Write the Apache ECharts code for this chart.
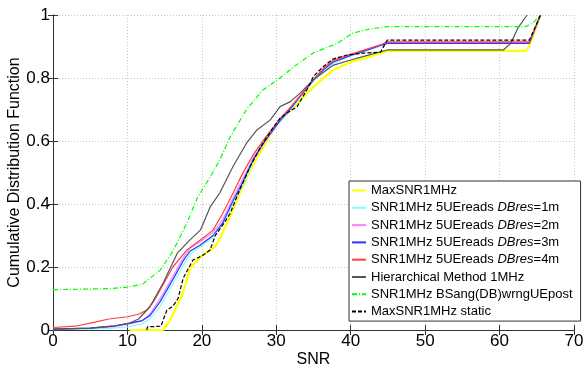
<!DOCTYPE html>
<html>
<head>
<meta charset="utf-8">
<script src="https://cdn.jsdelivr.net/npm/echarts@6/dist/echarts.min.js"></script>
<style>html,body{margin:0;padding:0;background:#fff}#c{width:585px;height:370px}</style>
</head>
<body>
<div id="c"></div>
<script>
// ---- data ----
const xTicks = [0, 10, 20, 30, 40, 50, 60, 70];
const yTicks = [0, 0.2, 0.4, 0.6, 0.8, 1];
const seriesNames = [
  'MaxSNR1MHz',
  'SNR1MHz 5UEreads DBres=1m',
  'SNR1MHz 5UEreads DBres=2m',
  'SNR1MHz 5UEreads DBres=3m',
  'SNR1MHz 5UEreads DBres=4m',
  'Hierarchical Method 1MHz',
  'SNR1MHz BSang(DB)wrngUEpost',
  'MaxSNR1MHz static'
];
const maxSNR = [[10.3,0],[14.8,0],[15.7,0.03],[16.5,0.07],[17.5,0.12],[18.4,0.195],[19.8,0.232],[21.1,0.254],[21.8,0.265],[22.4,0.29],[23.8,0.36],[25.1,0.435],[26.5,0.508],[28,0.57],[30.1,0.655],[32.5,0.71],[35,0.772],[37.6,0.825],[40,0.851],[42,0.863],[44,0.879],[45,0.886],[63.5,0.886],[64,0.9],[65.5,1]];
const res1m = [[0,0.001],[5,0.003],[8,0.006],[10,0.01],[12,0.02],[13,0.035],[14.4,0.075],[16.1,0.145],[17.5,0.205],[18.4,0.24],[19.8,0.265],[21.5,0.295],[22.8,0.335],[24.2,0.4],[25.5,0.46],[27,0.54],[28.5,0.6],[30.5,0.66],[32,0.7],[33.5,0.745],[35,0.79],[36.3,0.82],[37.6,0.845],[40,0.87],[42,0.885],[44,0.9],[44.9,0.91],[64,0.91],[65.5,1]];
const res2m = [[0,0.002],[5,0.005],[8,0.01],[10,0.018],[12,0.03],[13,0.05],[14.4,0.1],[16.1,0.17],[17.5,0.23],[18.4,0.26],[19.8,0.28],[21.5,0.31],[22.8,0.35],[24.2,0.42],[25.5,0.48],[27,0.55],[28.5,0.605],[30.5,0.67],[32,0.71],[33.5,0.755],[35,0.795],[36.3,0.83],[37.6,0.855],[40,0.875],[42,0.89],[44,0.905],[44.9,0.913],[64,0.913],[65.5,1]];
const res3m = [[0,0.003],[5,0.006],[8,0.012],[10,0.02],[12,0.03],[13,0.045],[14.4,0.09],[16.1,0.16],[17.5,0.22],[18.4,0.25],[19.8,0.27],[21.5,0.3],[22.8,0.34],[24.2,0.41],[25.5,0.47],[27,0.545],[28.5,0.6],[30.5,0.665],[32,0.705],[33.5,0.75],[35,0.793],[36.3,0.825],[37.6,0.85],[40,0.872],[42,0.887],[44,0.903],[44.9,0.91],[64,0.91],[65.5,1]];
const res4m = [[0,0.008],[3,0.012],[5,0.022],[7.5,0.035],[10,0.042],[11.5,0.05],[12.6,0.063],[13.5,0.09],[14.4,0.127],[16.1,0.2],[18,0.254],[19.8,0.286],[21.5,0.317],[22.8,0.37],[24.2,0.435],[25.5,0.498],[27,0.56],[28.5,0.61],[30.5,0.67],[32,0.71],[33.5,0.75],[35,0.795],[36.3,0.83],[37.6,0.855],[40,0.875],[42,0.89],[44,0.905],[44.9,0.915],[64,0.915],[65.5,1]];
const hierarchical = [[0,0.003],[5,0.006],[8,0.012],[10.3,0.022],[11.5,0.035],[13,0.073],[14.8,0.149],[16.7,0.244],[18.4,0.286],[19.8,0.317],[21.1,0.39],[22.4,0.435],[24.2,0.52],[26,0.593],[27.4,0.635],[29.2,0.667],[30.5,0.709],[31.9,0.725],[33.2,0.752],[35,0.795],[37.6,0.84],[40,0.857],[42,0.87],[44.9,0.889],[60.5,0.889],[61.5,0.91],[62.5,0.96],[63.7,1]];
const bsAngWrong = [[0,0.128],[5,0.13],[8,0.132],[10,0.136],[12,0.145],[14.4,0.19],[16.1,0.25],[18,0.34],[19.4,0.42],[21.1,0.485],[22.4,0.54],[23.8,0.613],[26,0.7],[28.2,0.762],[30.5,0.8],[32.3,0.835],[35,0.88],[38.2,0.91],[40.3,0.943],[42.5,0.955],[44.9,0.963],[63.5,0.963],[64.5,0.975],[65.5,1]];
const maxSNRstatic = [[12.6,0],[12.7,0.01],[14.5,0.012],[15.3,0.063],[16.1,0.075],[16.8,0.1],[17.5,0.165],[18.8,0.222],[20,0.235],[21.1,0.254],[21.8,0.3],[23,0.34],[23.8,0.37],[25,0.44],[26.5,0.52],[28,0.585],[29.5,0.64],[30.5,0.672],[31.5,0.69],[32.8,0.709],[34.1,0.762],[35,0.805],[36.3,0.836],[37.6,0.86],[39.5,0.873],[41.7,0.879],[44,0.882],[44.9,0.92],[64,0.92],[65.5,1]];

const allData = [maxSNR, res1m, res2m, res3m, res4m, hierarchical, bsAngWrong, maxSNRstatic];
const styles = [
  {color:'#ffff00', width:2.2, type:'solid'},
  {color:'#80ffff', width:1.2, type:'solid'},
  {color:'#ff80ff', width:1.2, type:'solid'},
  {color:'#3030ff', width:1.2, type:'solid'},
  {color:'#ff4040', width:1.2, type:'solid'},
  {color:'#555555', width:1.2, type:'solid'},
  {color:'#00ff00', width:1.2, type:[5,2,1,2]},
  {color:'#000000', width:1.2, type:[4,2]}
];

const FONT = '"Liberation Sans", Arial, sans-serif';
const chart = echarts.init(document.getElementById('c'), null, {renderer:'canvas'});

const series = allData.map((d, i) => ({
  name: seriesNames[i],
  type: 'line',
  data: d,
  symbol: 'none',
  showSymbol: false,
  animation: false,
  lineStyle: {color: styles[i].color, width: styles[i].width, type: styles[i].type},
  itemStyle: {color: styles[i].color, opacity: 0},
  z: i === 0 ? 1 : 2 + i
}));

function fmtLegend(name) {
  const m = name.match(/^(.*)DBres(=\d+m)$/);
  if (m) return '{n|' + m[1] + '}{i|DBres}{n|' + m[2] + '}';
  return '{n|' + name + '}';
}

const axisLine = {show:true, lineStyle:{color:'#333', width:1}};
chart.setOption({
  animation: false,
  backgroundColor: '#fff',
  grid: {left: 53, top: 15, right: 11, bottom: 40, containLabel: false, outerBoundsMode: 'none'},
  legend: {
    orient: 'vertical',
    left: 349, top: 181,
    data: seriesNames,
    itemWidth: 14, itemHeight: 14, itemGap: 4.3,
    padding: [3, 8, 3, 2],
    backgroundColor: '#fff',
    borderColor: '#333', borderWidth: 1,
    itemStyle: {opacity: 0},
    formatter: fmtLegend,
    textStyle: {
      fontFamily: FONT, fontSize: 13, color: '#000',
      rich: {
        n: {fontFamily: FONT, fontSize: 13, color: '#000'},
        i: {fontFamily: FONT, fontSize: 13, color: '#000', fontStyle: 'italic'}
      }
    }
  },
  xAxis: [{
    type: 'value', min: xTicks[0], max: xTicks[xTicks.length-1], interval: 10,
    name: 'SNR', nameLocation: 'middle', nameGap: 22, nameMoveOverlap: false,
    nameTextStyle: {fontFamily: FONT, fontSize: 16, color: '#000'},
    axisLine: axisLine,
    axisTick: {show:true, inside:true, length:5, lineStyle:{color:'#333'}},
    axisLabel: {fontFamily: FONT, fontSize: 17, color: '#000', margin: 3},
    splitLine: {show:true, lineStyle:{color:'#c8c8c8', type:[1,2], width:1}}
  }, {
    type: 'value', position: 'top', min: xTicks[0], max: xTicks[xTicks.length-1], interval: 10,
    axisLine: axisLine,
    axisTick: {show:true, inside:true, length:5, lineStyle:{color:'#333'}},
    axisLabel: {show:false}, splitLine: {show:false}
  }],
  yAxis: [{
    type: 'value', min: yTicks[0], max: yTicks[yTicks.length-1], interval: 0.2,
    name: 'Cumulative Distribution Function', nameLocation: 'middle', nameGap: 30, nameMoveOverlap: false,
    nameTextStyle: {fontFamily: FONT, fontSize: 16, color: '#000'},
    axisLine: axisLine,
    axisTick: {show:true, inside:true, length:5, lineStyle:{color:'#333'}},
    axisLabel: {fontFamily: FONT, fontSize: 17, color: '#000', margin: 3},
    splitLine: {show:true, lineStyle:{color:'#c8c8c8', type:[1,2], width:1}}
  }, {
    type: 'value', position: 'right', min: yTicks[0], max: yTicks[yTicks.length-1], interval: 0.2,
    axisLine: axisLine,
    axisTick: {show:true, inside:true, length:5, lineStyle:{color:'#333'}},
    axisLabel: {show:false}, splitLine: {show:false}
  }],
  series: series
});
</script>
</body>
</html>
